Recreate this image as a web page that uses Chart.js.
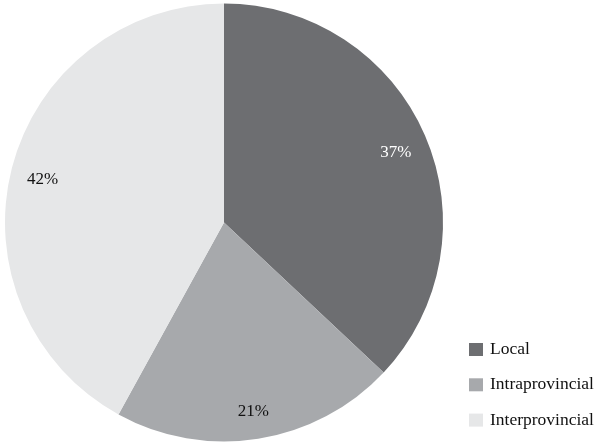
<!DOCTYPE html>
<html>
<head>
<meta charset="utf-8">
<script src="https://cdn.jsdelivr.net/npm/chart.js@4"></script>
</head>
<body style="margin:0;background:#fff">
<canvas id="c" width="606" height="447"></canvas>
<script>
const categories = ["Local", "Intraprovincial", "Interprovincial"];
const values = [37, 21, 42];
const valueLabels = ["37%", "21%", "42%"];
const colors = ["#6d6e71", "#a7a9ac", "#e6e7e8"];
const labelColors = ["#ffffff", "#111111", "#111111"];

const sliceLabels = {
  id: 'sliceLabels',
  afterDraw(chart) {
    const ctx = chart.ctx;
    const meta = chart.getDatasetMeta(0);
    ctx.save();
    ctx.font = '17px "Liberation Serif"';
    ctx.textAlign = 'center';
    ctx.textBaseline = 'middle';
    meta.data.forEach((arc, i) => {
      const p = arc.getProps(['x','y','startAngle','endAngle','outerRadius'], true);
      const mid = (p.startAngle + p.endAngle) / 2;
      const r = p.outerRadius * 0.855;
      ctx.fillStyle = labelColors[i];
      ctx.fillText(valueLabels[i], p.x + Math.cos(mid) * r, p.y + Math.sin(mid) * r + 4);
    });
    ctx.font = '17.5px "Liberation Serif"';
    ctx.textAlign = 'left';
    const x0 = 469, y0 = 343, step = 35.3;
    chart.data.labels.forEach((lab, i) => {
      const y = y0 + i * step;
      ctx.fillStyle = chart.data.datasets[0].backgroundColor[i];
      ctx.fillRect(x0, y, 14, 13);
      ctx.fillStyle = '#111111';
      ctx.fillText(lab, 490, y + 6.5);
    });
    ctx.restore();
  }
};

new Chart(document.getElementById('c'), {
  type: 'pie',
  data: {
    labels: categories,
    datasets: [{ data: values, backgroundColor: colors, borderWidth: 0 }]
  },
  options: {
    responsive: false,
    animation: false,
    layout: { padding: { left: 5, right: 163, top: 3, bottom: 5 } },
    plugins: { legend: { display: false }, tooltip: { enabled: false } }
  },
  plugins: [sliceLabels]
});
</script>
</body>
</html>
